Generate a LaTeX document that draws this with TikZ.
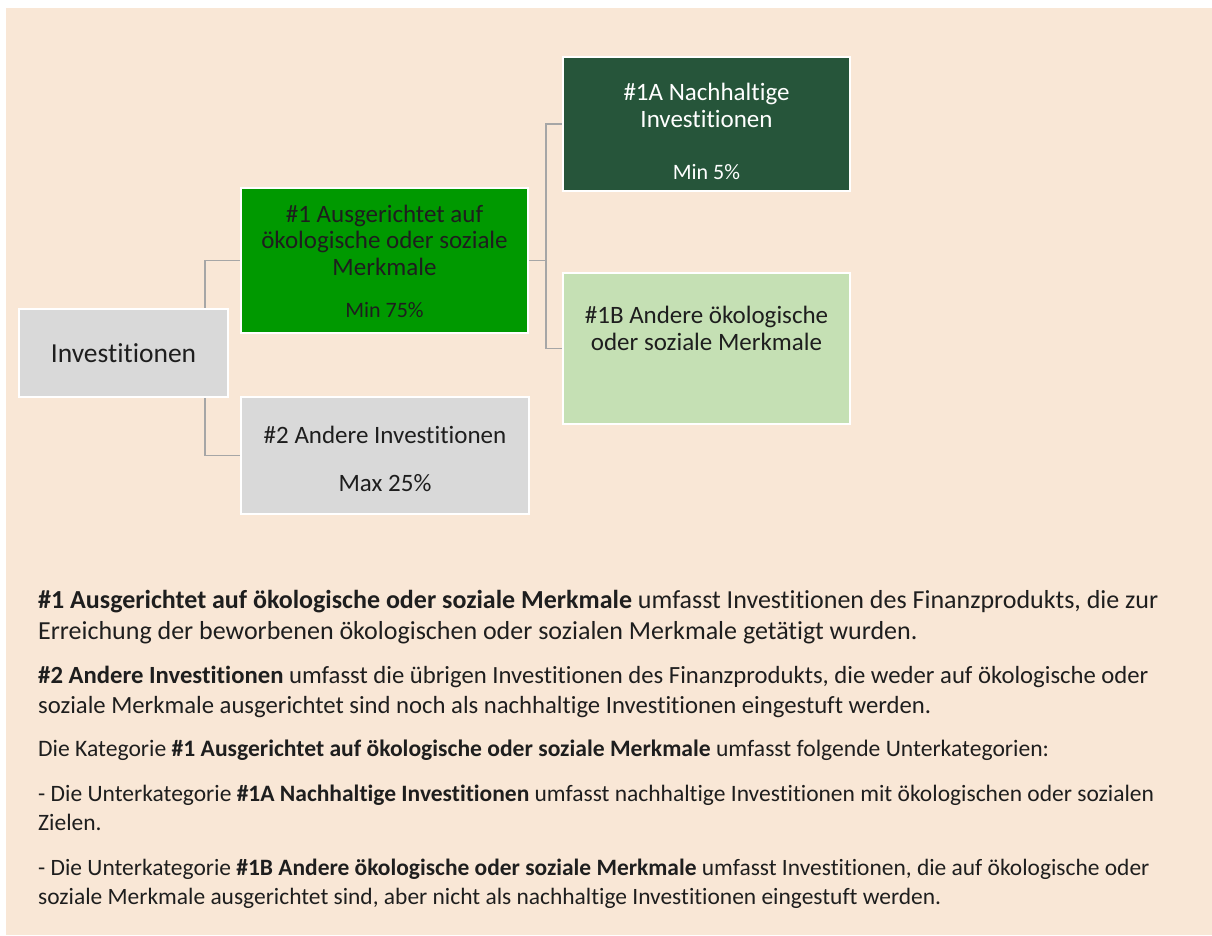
\documentclass[tikz,border=0pt]{standalone}
\usepackage{fontspec}
\setmainfont{Carlito}[Ligatures=NoCommon]
\usetikzlibrary{backgrounds}
\definecolor{bgbeige}{HTML}{F9E7D6}
\definecolor{boxgray}{HTML}{D9D9D9}
\definecolor{brightgreen}{HTML}{009900}
\definecolor{darkgreen}{HTML}{26553A}
\definecolor{lightgreen}{HTML}{C5E0B4}
\definecolor{conngray}{HTML}{A6A6A6}
\definecolor{txt}{HTML}{1E1E1E}
\newcommand{\fs}[1]{\fontsize{#1}{#1}\selectfont}
\begin{document}
\begin{tikzpicture}[x=1pt,y=-1pt,
  box/.style={draw=white, line width=2pt, inner sep=0pt},
  conn/.style={draw=conngray, line width=1.3pt},
  boxtext/.style={anchor=base, inner sep=0pt, text=txt, font=\fs{25}},
  body/.style={anchor=base west, inner sep=0pt, text=txt}]
\useasboundingbox (0,0) rectangle (1212,935);
\begin{scope}[on background layer]
\fill[white] (0,0) rectangle (1212,935);
\fill[bgbeige] (6,8) rectangle (1212,935);
\end{scope}

% boxes
\node[box, fill=boxgray, minimum width=209pt, minimum height=88pt] (inv) at (123.5,353) {};
\node[box, fill=brightgreen, minimum width=287pt, minimum height=145pt] (b1) at (384.5,260.5) {};
\node[box, fill=boxgray, minimum width=288pt, minimum height=117pt] (b2) at (385,455.5) {};
\node[box, fill=darkgreen, minimum width=287pt, minimum height=134pt] (b1a) at (706.5,124) {};
\node[box, fill=lightgreen, minimum width=287pt, minimum height=151pt] (b1b) at (706.5,348.5) {};

% connectors
\begin{scope}[on background layer]
\draw[conn] ([xshift=-24pt]inv.north east) |- (b1.west);
\draw[conn] ([xshift=-24pt]inv.south east) |- (b2.west);
\draw[conn] (b1.east) -- ++(17,0) |- (b1a.west);
\draw[conn] (b1.east) -- ++(17,0) |- (b1b.west);
\end{scope}

% box texts
\node[boxtext, font=\fs{27.5}] (tinv) at (123.5,362) {Investitionen};
\node[boxtext] (tb1a) at (384.5,222) {\#1 Ausgerichtet auf};
\node[boxtext] (tb1b) at (384.5,248) {ökologische oder soziale};
\node[boxtext] (tb1c) at (384.5,275) {Merkmale};
\node[boxtext, font=\fs{22}] (tb1d) at (384.5,317) {Min 75\%};
\node[boxtext] (tb2a) at (385,443) {\#2 Andere Investitionen};
\node[boxtext] (tb2b) at (385,491) {Max 25\%};
\node[boxtext, text=white] (t1aa) at (706.5,100) {\#1A Nachhaltige};
\node[boxtext, text=white] (t1ab) at (706.5,127) {Investitionen};
\node[boxtext, text=white, font=\fs{22}] (t1ac) at (706.5,179) {Min 5\%};
\node[boxtext] (t1ba) at (706.5,323) {\#1B Andere ökologische};
\node[boxtext] (t1bb) at (706.5,350) {oder soziale Merkmale};

% body text
\node[body, font=\fs{26}] (p1a) at (38,608) {\textbf{\#1 Ausgerichtet auf ökologische oder soziale Merkmale} umfasst Investitionen des Finanzprodukts, die zur};
\node[body, font=\fs{26}] (p1b) at (38,639) {Erreichung der beworbenen ökologischen oder sozialen Merkmale getätigt wurden.};
\node[body, font=\fs{24.7}] (p2a) at (38,683) {\textbf{\#2 Andere Investitionen} umfasst die übrigen Investitionen des Finanzprodukts, die weder auf ökologische oder};
\node[body, font=\fs{24.7}] (p2b) at (38,713) {soziale Merkmale ausgerichtet sind noch als nachhaltige Investitionen eingestuft werden.};
\node[body, font=\fs{23.6}] (p3a) at (38,756) {Die Kategorie \textbf{\#1 Ausgerichtet auf ökologische oder soziale Merkmale} umfasst folgende Unterkategorien:};
\node[body, font=\fs{23.5}] (p4a) at (38,801) {- Die Unterkategorie \textbf{\#1A Nachhaltige Investitionen} umfasst nachhaltige Investitionen mit ökologischen oder sozialen};
\node[body, font=\fs{23.5}] (p4b) at (38,830) {Zielen.};
\node[body, font=\fs{23.45}] (p5a) at (38,875) {- Die Unterkategorie \textbf{\#1B Andere ökologische oder soziale Merkmale} umfasst Investitionen, die auf ökologische oder};
\node[body, font=\fs{23.45}] (p5b) at (38,904) {soziale Merkmale ausgerichtet sind, aber nicht als nachhaltige Investitionen eingestuft werden.};
\end{tikzpicture}
\end{document}
